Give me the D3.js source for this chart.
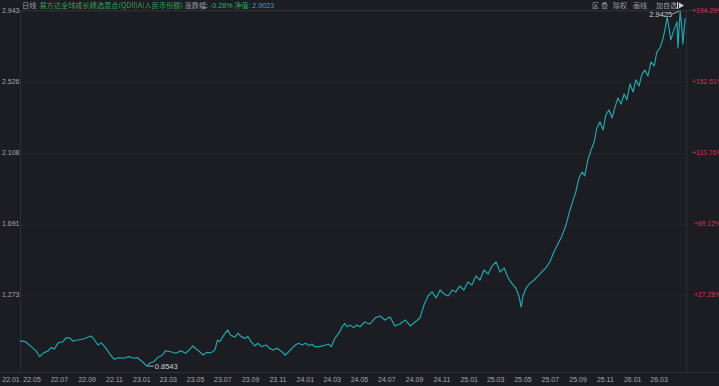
<!DOCTYPE html>
<html><head><meta charset="utf-8">
<script src="https://cdn.jsdelivr.net/npm/d3@7"></script>
<style>
html,body{margin:0;padding:0;background:#1b1d22;overflow:hidden;}
svg{display:block;font-family:"Noto Sans CJK SC","Noto Sans",sans-serif;}
</style></head>
<body><svg id="c" width="719" height="386"></svg>
<script>
// ---- data ----
const dates = ["2022-04-04","2022-04-11","2022-04-17","2022-04-29","2022-05-10","2022-05-18","2022-05-25","2022-06-06","2022-06-12","2022-06-20","2022-06-28","2022-07-09","2022-07-16","2022-07-24","2022-07-31","2022-08-11","2022-08-23","2022-08-29","2022-09-09","2022-09-14","2022-09-25","2022-10-02","2022-10-10","2022-10-16","2022-10-23","2022-10-31","2022-11-11","2022-11-22","2022-12-03","2022-12-14","2022-12-22","2023-01-03","2023-01-12","2023-01-19","2023-01-28","2023-02-05","2023-02-16","2023-02-23","2023-03-06","2023-03-18","2023-03-29","2023-04-09","2023-04-20","2023-04-25","2023-05-03","2023-05-10","2023-05-18","2023-05-25","2023-06-05","2023-06-13","2023-06-19","2023-06-24","2023-07-01","2023-07-06","2023-07-12","2023-07-18","2023-07-27","2023-08-04","2023-08-11","2023-08-19","2023-08-26","2023-09-02","2023-09-10","2023-09-17","2023-09-25","2023-10-06","2023-10-13","2023-10-21","2023-10-30","2023-11-10","2023-11-17","2023-11-25","2023-12-02","2023-12-10","2023-12-17","2023-12-25","2024-01-02","2024-01-09","2024-01-16","2024-01-23","2024-02-03","2024-02-15","2024-02-22","2024-02-28","2024-03-07","2024-03-16","2024-03-23","2024-03-29","2024-04-03","2024-04-10","2024-04-18","2024-04-25","2024-05-02","2024-05-13","2024-05-24","2024-06-05","2024-06-16","2024-06-27","2024-07-08","2024-07-19","2024-07-30","2024-08-11","2024-08-22","2024-09-02","2024-09-13","2024-09-22","2024-10-01","2024-10-10","2024-10-19","2024-10-28","2024-11-06","2024-11-15","2024-11-24","2024-12-02","2024-12-11","2024-12-20","2024-12-29","2025-01-07","2025-01-16","2025-01-25","2025-02-03","2025-02-12","2025-02-21","2025-03-02","2025-03-11","2025-03-20","2025-03-29","2025-04-07","2025-04-15","2025-04-22","2025-04-27","2025-05-01","2025-05-08","2025-05-17","2025-05-26","2025-06-04","2025-06-12","2025-06-21","2025-06-30","2025-07-09","2025-07-18","2025-07-27","2025-08-05","2025-08-14","2025-08-21","2025-08-27","2025-09-03","2025-09-10","2025-09-16","2025-09-23","2025-09-30","2025-10-07","2025-10-13","2025-10-20","2025-10-27","2025-11-02","2025-11-09","2025-11-16","2025-11-22","2025-11-29","2025-12-06","2025-12-13","2025-12-19","2025-12-26","2026-01-02","2026-01-08","2026-01-15","2026-01-22","2026-01-28","2026-02-04","2026-02-11","2026-02-18","2026-02-24","2026-03-03","2026-03-10","2026-03-14","2026-03-19","2026-03-23","2026-03-27","2026-04-03","2026-04-10","2026-04-12","2026-04-17","2026-04-21","2026-04-23","2026-04-28"];
const navValues = [1.000,1.002,0.996,0.969,0.944,0.910,0.930,0.944,0.963,0.955,0.991,0.998,1.022,1.020,1.002,1.008,1.014,1.020,1.032,1.020,0.979,0.991,0.969,0.949,0.920,0.896,0.904,0.901,0.910,0.901,0.904,0.879,0.8543,0.873,0.881,0.904,0.920,0.944,0.939,0.930,0.944,0.930,0.959,0.973,0.954,0.939,0.920,0.934,0.934,0.949,1.008,0.998,1.028,1.048,1.067,1.038,1.024,1.048,1.028,1.018,1.028,0.998,0.973,0.989,0.969,0.979,0.959,0.949,0.959,0.939,0.920,0.939,0.959,0.979,0.989,0.979,0.989,0.975,0.983,0.969,0.969,0.979,0.983,0.969,1.018,1.048,1.086,1.106,1.086,1.096,1.081,1.096,1.086,1.114,1.102,1.138,1.149,1.126,1.144,1.091,1.102,1.126,1.091,1.114,1.138,1.214,1.267,1.291,1.255,1.302,1.279,1.267,1.302,1.291,1.326,1.302,1.349,1.332,1.385,1.361,1.420,1.396,1.444,1.467,1.408,1.432,1.373,1.338,1.314,1.267,1.202,1.267,1.314,1.344,1.361,1.385,1.408,1.432,1.467,1.526,1.573,1.620,1.685,1.773,1.832,1.879,1.961,1.996,1.973,2.067,2.126,2.173,2.255,2.291,2.244,2.332,2.361,2.314,2.373,2.432,2.396,2.455,2.420,2.514,2.467,2.538,2.502,2.573,2.596,2.561,2.644,2.620,2.702,2.726,2.785,2.832,2.908,2.844,2.773,2.832,2.879,2.726,2.9425,2.832,2.749,2.9023];
const yTicks = [1.273,1.691,2.108,2.526,2.943];
const yTickLabels = ["1.273","1.691","2.108","2.526","2.943"];
const pctLabels = ["+27.28%","+69.12%","+110.76%","+152.61%","+194.29%"];
const xTickDates = ["2022-05-01","2022-07-01","2022-09-01","2022-11-01","2023-01-01","2023-03-01","2023-05-01","2023-07-01","2023-09-01","2023-11-01","2024-01-01","2024-03-01","2024-05-01","2024-07-01","2024-09-01","2024-11-01","2025-01-01","2025-03-01","2025-05-01","2025-07-01","2025-09-01","2025-11-01","2026-01-01","2026-03-01"];
const xTickLabels = ["22.05","22.07","22.09","22.11","23.01","23.03","23.05","23.07","23.09","23.11","24.01","24.03","24.05","24.07","24.09","24.11","25.01","25.03","25.05","25.07","25.09","25.11","26.01","26.03"];
const firstLabel = "22.01";
const fundName = "易方达全球成长精选混合(QDII)A(人民币份额)";
const changeText = "-0.28%";
const navText = "2.9023";
const toolItems = ["区","叠","除权","画线","加自选"];

// ---- layout ----
const L = 20, R = 686, T = 10.5, B = 372;
const NUM = "Liberation Sans, Arial, sans-serif";
const parse = d3.timeParse("%Y-%m-%d");
const data = dates.map((d,i)=>({date:parse(d), v:navValues[i]}));
const svg = d3.select("#c");
svg.append("rect").attr("width",719).attr("height",386).attr("fill","#1b1d22");

const x = d3.scaleTime().domain([parse("2022-04-04"), parse("2026-04-30")]).range([L, R]);
const y = d3.scaleLinear().domain([0.82, 2.946]).range([B, T]);

// grid & frame
svg.append("g").selectAll("line").data(yTicks).join("line")
  .attr("x1",L).attr("x2",R).attr("y1",d=>Math.round(y(d))+0.5).attr("y2",d=>Math.round(y(d))+0.5)
  .attr("stroke","#202329").attr("stroke-width",1);
svg.append("line").attr("x1",L).attr("x2",719).attr("y1",10.5).attr("y2",10.5).attr("stroke","#2b2e35");
svg.append("line").attr("x1",0).attr("x2",719).attr("y1",B+0.5).attr("y2",B+0.5).attr("stroke","#2b2e35");
svg.append("line").attr("x1",L+0.5).attr("x2",L+0.5).attr("y1",10).attr("y2",B).attr("stroke","#2b2e35");
svg.append("line").attr("x1",R+0.5).attr("x2",R+0.5).attr("y1",10).attr("y2",B).attr("stroke","#2b2e35");

// left axis labels
svg.append("g").selectAll("text").data(yTicks).join("text")
  .attr("x",2).attr("y",d=>y(d)).attr("dy","0.35em")
  .attr("fill","#a3a7ae").attr("font-size",7).attr("font-family",NUM)
  .text((d,i)=>yTickLabels[i]);
// right axis labels
svg.append("g").selectAll("text").data(yTicks).join("text")
  .attr("x",(d,i)=>pctLabels[i].length>7?692:694).attr("y",d=>y(d)).attr("dy","0.35em")
  .attr("fill","#d8344c").attr("font-size",6.8).attr("font-family",NUM)
  .text((d,i)=>pctLabels[i]);

// x axis labels
const xg = svg.append("g").attr("font-size",7).attr("font-family",NUM).attr("fill","#a3a7ae");
xg.selectAll("text.t").data(xTickDates).join("text").attr("class","t")
  .attr("x",d=>x(parse(d))).attr("y",382).attr("text-anchor","middle").text((d,i)=>xTickLabels[i]);
xg.append("text").attr("x",x.range()[0]-9).attr("y",382).attr("text-anchor","middle").text(firstLabel);

// line
svg.append("path").datum(data)
  .attr("fill","none").attr("stroke","#22a5aa").attr("stroke-width",1.2).attr("stroke-linejoin","round")
  .attr("d", d3.line().x(d=>x(d.date)).y(d=>y(d.v)));

// min / max markers
const minP = data.reduce((a,b)=>b.v<a.v?b:a);
const maxP = data.reduce((a,b)=>b.v>a.v?b:a);
svg.append("line").attr("x1",x(minP.date)+1).attr("x2",x(minP.date)+7).attr("y1",y(minP.v)).attr("y2",y(minP.v)).attr("stroke","#d0d0d0").attr("stroke-width",0.8);
svg.append("text").attr("x",x(minP.date)+8).attr("y",y(minP.v)).attr("dy","0.35em").attr("fill","#d0d0d0")
  .attr("font-size",7.5).attr("font-family",NUM).text(minP.v.toFixed(4));
svg.append("line").attr("x1",x(maxP.date)-8).attr("x2",x(maxP.date)-1).attr("y1",y(maxP.v)+3).attr("y2",y(maxP.v)).attr("stroke","#d0d0d0").attr("stroke-width",0.8);
svg.append("text").attr("x",x(maxP.date)-8).attr("y",y(maxP.v)+3).attr("dy","0.35em").attr("text-anchor","end").attr("fill","#d0d0d0")
  .attr("font-size",7.5).attr("font-family",NUM).text(maxP.v.toFixed(4));

// header
const h = svg.append("text").attr("x",22).attr("y",7.5).attr("font-size",7.2);
h.append("tspan").attr("fill","#9a9ea5").text("日线");
h.append("tspan").attr("dx",3).attr("fill","#3a9e58").text(fundName);
h.append("tspan").attr("fill","#9a9ea5").text(" 涨跌幅: ");
h.append("tspan").attr("fill","#2fb36a").attr("font-family",NUM).text(changeText);
h.append("tspan").attr("fill","#3a9e58").text(" 净值: ");
h.append("tspan").attr("fill","#2aa6c4").attr("font-family",NUM).text(navText);

const tb = svg.append("text").attr("x",592).attr("y",7.5).attr("font-size",7).attr("fill","#9a9ea5");
toolItems.forEach((t,i)=>tb.append("tspan").attr("dx",i===0?0:[0,2,5,6,9][i]).text(t));
svg.append("rect").attr("x",677).attr("y",2).attr("width",1.2).attr("height",7).attr("fill","#c8ccd2");
svg.append("path").attr("d","M679,2.5 L684,5.5 L679,8.5 Z").attr("fill","#c8ccd2");
</script></body></html>
